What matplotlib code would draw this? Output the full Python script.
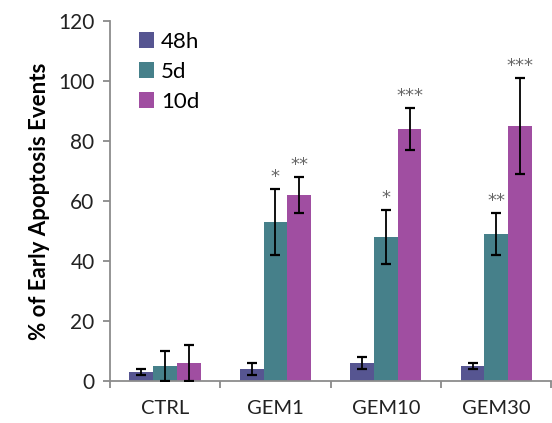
import numpy as np
import matplotlib
matplotlib.use("Agg")
import matplotlib.pyplot as plt

# data
groups = ['CTRL', 'GEM1', 'GEM10', 'GEM30']
series = ['48h', '5d', '10d']
vals_48h = [3, 4, 6, 5]
vals_5d = [5, 53, 48, 49]
vals_10d = [6, 62, 84, 85]
err_48h = [1, 2, 2, 1]
err_5d = [5, 11, 9, 7]
err_10d = [6, 6, 7, 16]
stars_5d = ['', '*', '*', '**']
stars_10d = ['', '**', '***', '***']

colors = ['#565591', '#46808a', '#a04ea1']

plt.rcParams['font.family'] = ['Lato', 'DejaVu Sans']

fig = plt.figure(figsize=(5.52, 4.23), dpi=100)
ax = fig.add_axes([0.199, 0.0993, 0.80, 0.851])

x = np.arange(len(groups))
w = 0.215
vals = [vals_48h, vals_5d, vals_10d]
errs = [err_48h, err_5d, err_10d]
for i, (v, e, c, lab) in enumerate(zip(vals, errs, colors, series)):
    ax.bar(x + (i - 1) * w, v, w, color=c, label=lab, zorder=2)
    ax.errorbar(x + (i - 1) * w, v, yerr=e, fmt='none', ecolor='black',
                elinewidth=1.3, capsize=3.5, capthick=1.6, zorder=3)

for stars, v, e, off in [(stars_5d, vals_5d, err_5d, 0), (stars_10d, vals_10d, err_10d, 1)]:
    for xi, s, vi, ei in zip(x, stars, v, e):
        if s:
            ax.text(xi + off * w, vi + ei + 1.0, s, ha='center', va='bottom',
                    fontsize=13, color='#666666', family='DejaVu Sans')

ax.set_ylim(0, 120)
ax.set_xlim(-0.5, 3.47)
ax.set_yticks(np.arange(0, 121, 20))
ax.set_xticks(x)
ax.set_xticklabels(groups)
ax.set_xticks(np.arange(-0.5, 3.6, 1), minor=True)
ax.tick_params(axis='x', which='major', length=0, pad=14, labelsize=14.5, colors='#222222')
ax.tick_params(axis='x', which='minor', length=5, direction='out', color='#808080', width=1.2)
ax.tick_params(axis='y', length=5, color='#808080', width=1.2, labelsize=15,
               labelcolor='#222222', pad=6)

for s in ['top', 'right']:
    ax.spines[s].set_visible(False)
for s in ['left', 'bottom']:
    ax.spines[s].set_color('#8c8c8c')
    ax.spines[s].set_linewidth(1.3)

ax.set_ylabel('% of Early Apoptosis Events', fontsize=16, fontweight='bold', labelpad=6)

leg = ax.legend(loc='upper left', bbox_to_anchor=(0.02, 1.025), frameon=False,
                fontsize=16, handlelength=0.7, handleheight=0.7,
                handletextpad=0.3, labelspacing=0.45)

fig.savefig('out.png', dpi=100)
